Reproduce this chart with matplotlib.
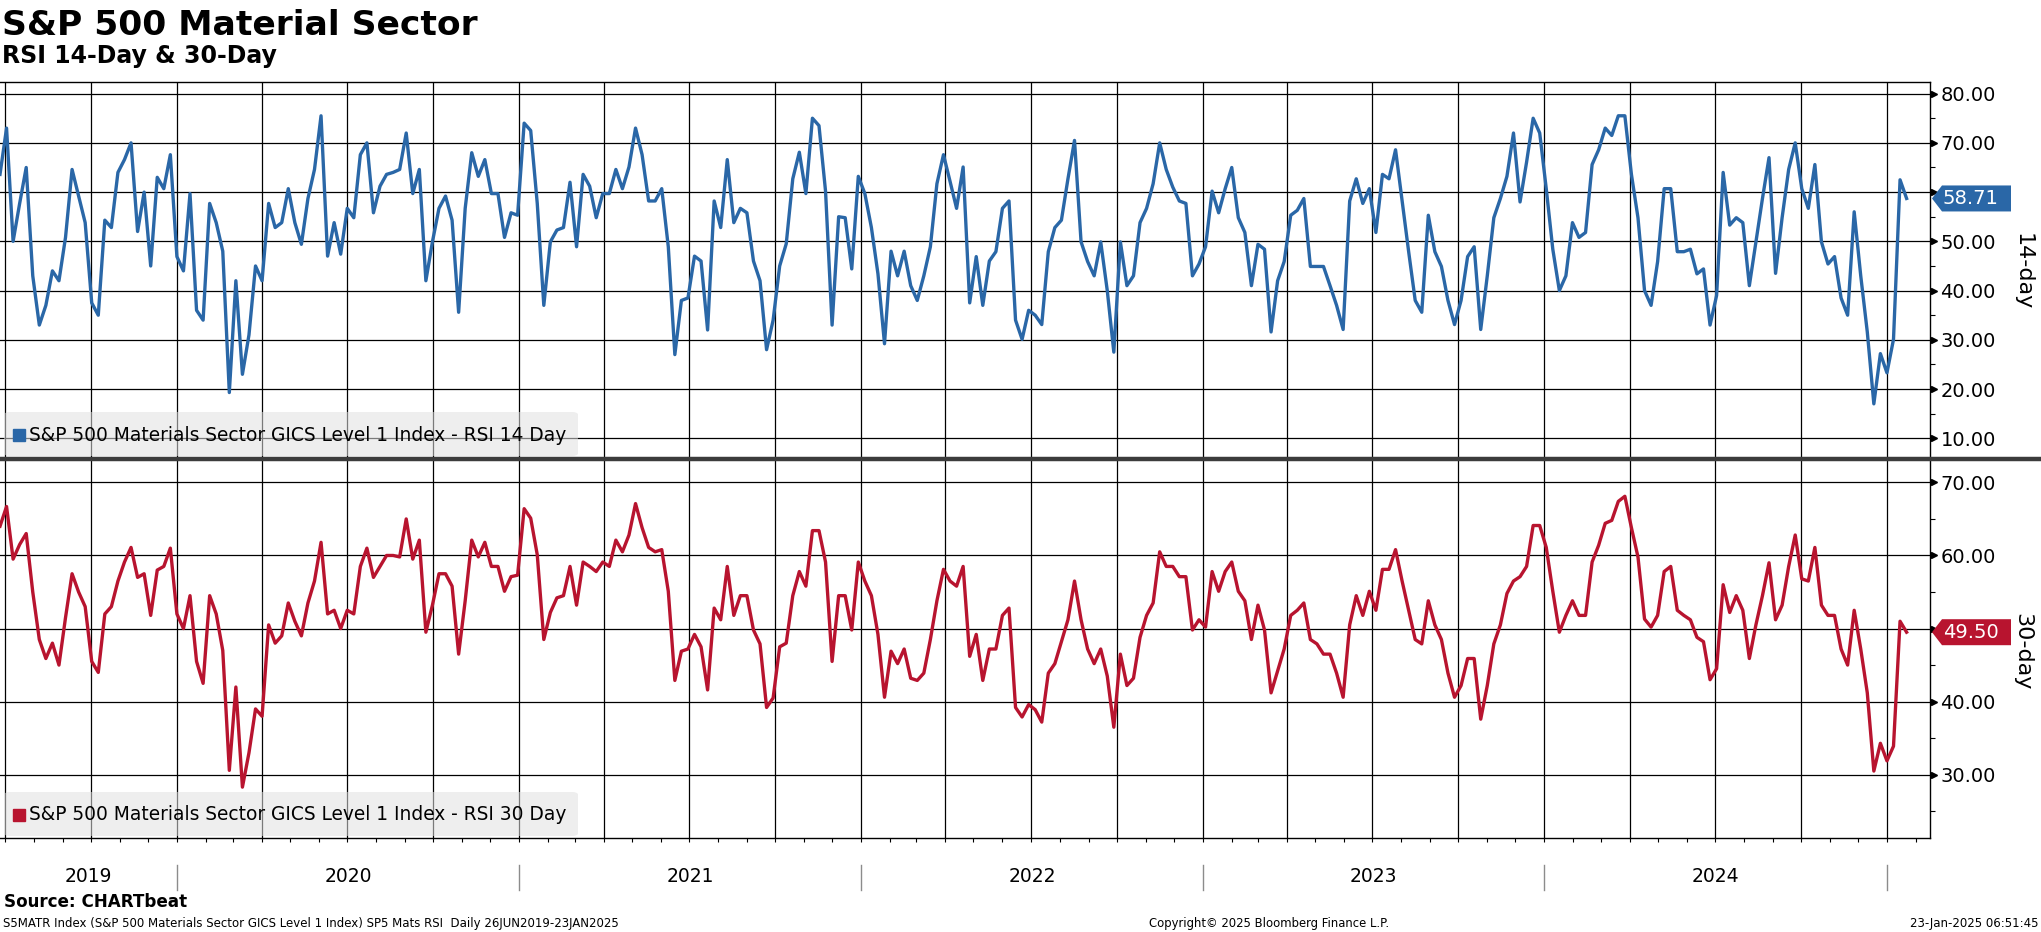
import matplotlib
matplotlib.use("Agg")
import numpy as np
import pandas as pd
import matplotlib.pyplot as plt
import matplotlib.dates as mdates
import matplotlib.transforms as mtransforms
from matplotlib.patches import Polygon, FancyBboxPatch, Rectangle
from matplotlib.lines import Line2D
from matplotlib.ticker import FormatStrFormatter

# weekly readings of the two RSI series (26 Jun 2019 .. 23 Jan 2025)
rsi14 = [
    63.6, 73, 50, 57.7, 65, 43, 33, 37, 44, 42, 50.8, 64.6, 59.2, 53.8, 37.5, 35,
    54.3, 52.8, 64, 66.6, 70, 52, 60, 45, 63, 60.7, 67.6, 46.9, 44, 59.7, 36, 34,
    57.7, 53.8, 48, 19.3, 42, 23, 31, 45, 42, 57.7, 52.8, 53.8, 60.7, 53.8, 49.4, 58.7,
    64.6, 75.5, 47, 53.8, 47.4, 56.7, 54.8, 67.6, 70, 55.8, 61.2, 63.6, 64, 64.6, 72, 59.7,
    64.6, 42, 49.9, 56.7, 59.2, 54.3, 35.6, 56.7, 68, 63.2, 66.6, 59.7, 59.7, 50.8, 55.8, 55.3,
    74, 72.5, 57.7, 37, 49.9, 52.3, 52.8, 62, 48.9, 63.6, 61.2, 54.8, 59.7, 59.7, 64.6, 60.7,
    65.1, 73, 67.6, 58.2, 58.2, 60.7, 48.9, 27, 38, 38.5, 47, 46, 32, 58.2, 52.8, 66.6,
    53.8, 56.7, 55.8, 46, 42, 28, 34, 45, 49.5, 62.7, 68.1, 59.7, 75, 73.5, 60.2, 33,
    55, 54.8, 44.4, 63.2, 59.7, 52.8, 43.4, 29.2, 48, 43, 48, 41, 38, 43, 48.9, 61.7,
    67.6, 62.2, 56.7, 65.1, 37.5, 46.9, 37, 46, 47.9, 56.7, 58.2, 34, 30.1, 36, 35, 33.1,
    47.9, 52.8, 54.3, 62.7, 70.5, 49.9, 45.9, 43, 49.9, 40, 27.5, 49.9, 41, 43, 53.8, 56.7,
    61.7, 70, 64.6, 61, 58.2, 57.7, 43, 45.4, 48.9, 60.2, 55.8, 60.7, 65, 54.8, 51.8, 41,
    49.4, 48.4, 31.6, 42, 45.9, 55.3, 56.3, 58.7, 44.9, 44.9, 44.9, 41, 37, 32.1, 58.2, 62.7,
    57.7, 60.7, 51.8, 63.6, 62.7, 68.6, 58.2, 47.9, 38, 35.6, 55.3, 47.9, 44.9, 38, 33.1, 38,
    46.9, 48.9, 32.1, 43, 54.8, 58.7, 63.2, 72, 58, 66.1, 75, 72, 60.7, 48.4, 40, 43,
    53.8, 50.8, 51.8, 65.6, 68.6, 73, 71.5, 75.5, 75.5, 63.6, 54.8, 40, 37, 45.9, 60.7, 60.7,
    47.9, 47.9, 48.4, 43.4, 44.4, 33, 39, 64, 53.3, 54.8, 53.8, 41, 49.9, 58.7, 67, 43.5,
    54.8, 64.6, 70, 60.7, 56.7, 65.6, 49.9, 45.4, 46.9, 38.5, 35, 56, 43, 31.6, 17, 27.2,
    23.3, 30.1, 62.5, 58.71,
]

rsi30 = [
    64, 66.7, 59.5, 61.5, 63, 55, 48.5, 45.9, 48, 45, 51.5, 57.5, 55, 53, 45.5, 44,
    52, 53, 56.5, 59.1, 61.1, 57, 57.5, 51.8, 58, 58.5, 61, 52, 50, 54.5, 45.5, 42.5,
    54.5, 52, 47, 30.6, 42, 28.3, 33, 39, 38, 50.5, 48, 49, 53.5, 51, 49, 53.5,
    56.5, 61.8, 52, 52.5, 50, 52.5, 52, 58.5, 61, 57, 58.5, 60, 60, 59.8, 65, 59.5,
    62.1, 49.5, 53.2, 57.5, 57.5, 55.8, 46.5, 53.8, 62.1, 59.8, 61.8, 58.5, 58.5, 55.1, 57.1, 57.3,
    66.4, 65.1, 60.1, 48.5, 52.2, 54.2, 54.5, 58.5, 53.2, 59.1, 58.5, 57.8, 59.1, 58.5, 62.1, 60.5,
    62.8, 67.1, 63.8, 61.1, 60.5, 60.8, 55.1, 42.9, 46.9, 47.2, 49.2, 47.5, 41.6, 52.8, 51.2, 58.5,
    51.8, 54.5, 54.5, 49.8, 47.9, 39.2, 40.5, 47.5, 48, 54.5, 57.8, 55.8, 63.4, 63.4, 59.1, 45.5,
    54.5, 54.5, 49.8, 59.1, 56.5, 54.5, 49.2, 40.6, 46.9, 45.2, 47.2, 43.2, 42.9, 43.9, 48.5, 53.8,
    58.1, 56.5, 55.8, 58.5, 46.2, 49.2, 42.9, 47.2, 47.2, 51.8, 52.8, 39.2, 37.9, 39.6, 38.9, 37.2,
    43.9, 45.2, 48.2, 51.2, 56.5, 51.2, 47.2, 45.2, 47.2, 43.5, 36.5, 46.5, 42.2, 43.2, 48.8, 51.8,
    53.5, 60.5, 58.5, 58.5, 57.1, 57.1, 49.8, 51.2, 50.2, 57.8, 55.1, 57.8, 59.1, 55.1, 53.8, 48.5,
    53.2, 49.8, 41.2, 44.2, 47.2, 51.8, 52.5, 53.5, 48.5, 47.9, 46.5, 46.5, 43.9, 40.6, 50.5, 54.5,
    51.8, 55.1, 52.5, 58.1, 58.1, 60.8, 56.5, 52.5, 48.5, 47.9, 53.8, 50.5, 48.5, 43.9, 40.6, 42.2,
    45.9, 45.9, 37.6, 42.2, 47.9, 50.5, 54.8, 56.5, 57.1, 58.5, 64.1, 64.1, 61.1, 55.1, 49.5, 51.8,
    53.8, 51.8, 51.8, 59.1, 61.4, 64.4, 64.8, 67.4, 68.1, 63.8, 59.8, 51.3, 50.2, 51.8, 57.8, 58.5,
    52.5, 51.8, 51.2, 48.8, 48.2, 43, 44.5, 56, 52.2, 54.5, 52.5, 45.9, 50.5, 54.5, 59, 51.2,
    53.2, 58.5, 62.8, 56.8, 56.5, 61.1, 53.2, 51.8, 51.8, 47.2, 45, 52.5, 47.2, 41.2, 30.5, 34.3,
    31.9, 33.9, 51, 49.5,
]

dates = pd.date_range("2019-06-26", periods=len(rsi14), freq="7D")
years = [2019, 2020, 2021, 2022, 2023, 2024]

BLUE = "#2a67a7"
RED = "#b8142f"
W, H = 2041, 932


def fx(px):
    return px / W


def fy(py):
    return 1 - py / H


fig = plt.figure(figsize=(W / 100, H / 100), dpi=100)
ax1 = fig.add_axes([0, fy(459), fx(1930), (459 - 82) / H])
ax2 = fig.add_axes([0, fy(838), fx(1930), (838 - 459) / H])

x0 = pd.Timestamp("2019-06-26")
x1 = pd.Timestamp("2025-02-16")

panels = [
    (ax1, rsi14, BLUE, (5.8, 82.36), np.arange(10, 81, 10), np.arange(15, 80, 10)),
    (ax2, rsi30, RED, (21.34, 73.2), np.arange(30, 71, 10), np.arange(25, 70, 10)),
]

for ax, vals, color, ylim, major, minor in panels:
    ax.plot(dates, vals, color=color, lw=2.4, zorder=3, solid_joinstyle="round")
    ax.set_xlim(x0, x1)
    ax.set_ylim(ylim)
    ax.yaxis.tick_right()
    ax.set_yticks(major)
    ax.set_yticks(minor, minor=True)
    ax.yaxis.set_major_formatter(FormatStrFormatter("%.2f"))
    ax.tick_params(axis="y", which="major", length=0, pad=7.5, labelsize=14)
    ax.tick_params(axis="y", which="minor", length=3.6, width=0.8, direction="out")
    ax.xaxis.set_major_locator(mdates.MonthLocator(bymonth=[1, 4, 7, 10]))
    ax.xaxis.set_minor_locator(mdates.MonthLocator())
    ax.tick_params(axis="x", which="both", labelbottom=False)
    ax.grid(True, which="major", color="black", lw=0.9)
    ax.spines["left"].set_visible(False)
    for s in ["top", "bottom", "right"]:
        ax.spines[s].set_linewidth(1.0)
    # little arrow heads on the major ticks
    tr = mtransforms.blended_transform_factory(ax.transAxes, ax.transData)
    ax.plot(np.full(len(major), 1.0019), major, transform=tr, ls="none",
            marker=">", ms=5, color="black", clip_on=False)

ax1.tick_params(axis="x", which="both", length=0)
ax1.spines["bottom"].set_visible(False)
ax2.spines["top"].set_visible(False)
ax2.tick_params(axis="x", which="both", length=3, width=0.8, direction="out")

# separator between panels
fig.add_artist(Line2D([0, 1], [fy(459), fy(459)], transform=fig.transFigure,
                      color="#3c3c3c", lw=3.2))

# legends
for ytop, color, label in [(412, BLUE, "S&P 500 Materials Sector GICS Level 1 Index - RSI 14 Day"),
                           (792, RED, "S&P 500 Materials Sector GICS Level 1 Index - RSI 30 Day")]:
    box = FancyBboxPatch((fx(4), fy(ytop + 44)), fx(574), 44 / H,
                         boxstyle="round,pad=0,rounding_size=0.003",
                         transform=fig.transFigure, facecolor="#e0e0e0",
                         edgecolor="none", alpha=0.55, zorder=5)
    fig.add_artist(box)
    fig.add_artist(Rectangle((fx(13), fy(ytop + 29)), fx(12), 12 / H,
                             transform=fig.transFigure, color=color, zorder=6))
    fig.text(fx(29), fy(ytop + 23), label, fontsize=13.4, va="center", ha="left", zorder=6)

# value tags on the right axis
for ax, vals, color in [(ax1, rsi14, BLUE), (ax2, rsi30, RED)]:
    yd = ax.transData.transform((0, vals[-1]))[1]
    yc = fig.transFigure.inverted().transform((0, yd))[1]
    hh = 13 / H
    pts = [(fx(1932), yc), (fx(1942), yc + hh), (fx(2011), yc + hh),
           (fx(2011), yc - hh), (fx(1942), yc - hh)]
    fig.add_artist(Polygon(pts, closed=True, transform=fig.transFigure,
                           facecolor=color, edgecolor="none", zorder=6))
    fig.text(fx(1943), yc, f"{vals[-1]:.2f}", color="white", fontsize=14,
             va="center", ha="left", zorder=7)

fig.text(fx(2023), fy(272), "14-day", rotation=270, ha="center", va="center", fontsize=16)
fig.text(fx(2022), fy(652), "30-day", rotation=270, ha="center", va="center", fontsize=16)

# year labels under the lower panel
tr2 = mtransforms.blended_transform_factory(ax2.transData, fig.transFigure)
for yr in years:
    a = max(pd.Timestamp(f"{yr}-01-01"), x0)
    b = pd.Timestamp(f"{yr + 1}-01-01")
    mid = a + (b - a) / 2
    ax2.text(mid, fy(877), str(yr), transform=tr2, ha="center", va="center",
             fontsize=13.5, clip_on=False)
    ax2.add_line(Line2D([b, b], [fy(865), fy(890)], transform=tr2, color="#8c8c8c",
                        lw=1.0, clip_on=False))

# titles and footers
fig.text(fx(2), fy(35), "S&P 500 Material Sector", fontsize=24.8, fontweight="bold",
         va="baseline", ha="left")
fig.text(fx(2), fy(63), "RSI 14-Day & 30-Day", fontsize=17, fontweight="bold",
         va="baseline", ha="left")
fig.text(fx(4), fy(902), "Source: CHARTbeat", fontsize=12.1, fontweight="bold",
         va="center", ha="left")
fig.text(fx(3), fy(924), "S5MATR Index (S&P 500 Materials Sector GICS Level 1 Index) SP5 Mats RSI  Daily 26JUN2019-23JAN2025",
         fontsize=8.5, va="center", ha="left")
fig.text(fx(1149), fy(924), "Copyright\u00a9 2025 Bloomberg Finance L.P.", fontsize=8.4,
         va="center", ha="left")
fig.text(fx(2038), fy(924), "23-Jan-2025 06:51:45", fontsize=8.5, va="center", ha="right")

fig.savefig("out.png", dpi=100)
